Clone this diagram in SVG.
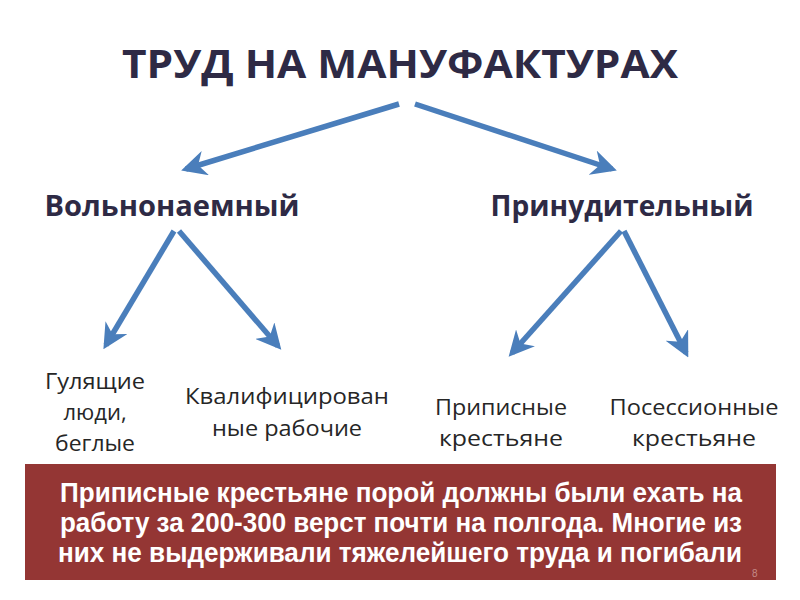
<svg xmlns="http://www.w3.org/2000/svg" width="800" height="600" viewBox="0 0 800 600">
<defs>
<marker id="ah" viewBox="0 0 10 10" refX="8" refY="5" markerWidth="4.6" markerHeight="4.6" orient="auto" markerUnits="strokeWidth">
<path d="M0,0 L10,5 L0,10 L3,5 z" fill="#4a7ebb"/>
</marker>
<style>
.conn{stroke:#4a7ebb;stroke-width:5.5;fill:none;marker-end:url(#ah)}
.title{font-family:"Open Sans","DejaVu Sans",sans-serif;font-weight:bold;font-size:40px;fill:#2e2a45;text-anchor:middle}
.cat{font-family:"Open Sans","DejaVu Sans",sans-serif;font-weight:bold;font-size:29px;fill:#2e2a45;text-anchor:middle}
.leaf{font-family:"Open Sans","DejaVu Sans",sans-serif;font-size:22px;fill:#262626;text-anchor:middle}
.note{font-family:"Liberation Sans",Arial,sans-serif;font-weight:bold;font-size:27px;fill:#ffffff;text-anchor:middle}
</style>
</defs>
<rect width="800" height="600" fill="#ffffff"/>
<g id="title"><text class="title" x="400" y="78" textLength="556" lengthAdjust="spacingAndGlyphs">ТРУД НА МАНУФАКТУРАХ</text></g>
<g id="connectors">
<line class="conn" x1="399" y1="104" x2="186" y2="169"/>
<line class="conn" x1="415" y1="104" x2="612" y2="169"/>
<line class="conn" x1="174" y1="231" x2="106" y2="345"/>
<line class="conn" x1="179" y1="231" x2="278" y2="346"/>
<line class="conn" x1="621" y1="231" x2="512" y2="353"/>
<line class="conn" x1="624" y1="231" x2="686" y2="353"/>
</g>
<g id="node-free"><text class="cat" x="172" y="216" textLength="255" lengthAdjust="spacingAndGlyphs">Вольнонаемный</text></g>
<g id="node-forced"><text class="cat" x="622" y="216" textLength="263" lengthAdjust="spacingAndGlyphs">Принудительный</text></g>
<g id="node-walking"><text class="leaf" x="95" y="389" textLength="100" lengthAdjust="spacingAndGlyphs">Гулящие</text><text class="leaf" x="95" y="420">люди,</text><text class="leaf" x="95" y="451" textLength="80" lengthAdjust="spacingAndGlyphs">беглые</text></g>
<g id="node-qualified"><text class="leaf" x="287" y="404" textLength="204" lengthAdjust="spacingAndGlyphs">Квалифицирован</text><text class="leaf" x="287" y="436" textLength="150" lengthAdjust="spacingAndGlyphs">ные рабочие</text></g>
<g id="node-assigned"><text class="leaf" x="501" y="415" textLength="132" lengthAdjust="spacingAndGlyphs">Приписные</text><text class="leaf" x="501" y="446" textLength="124" lengthAdjust="spacingAndGlyphs">крестьяне</text></g>
<g id="node-possessional"><text class="leaf" x="694" y="415" textLength="169" lengthAdjust="spacingAndGlyphs">Посессионные</text><text class="leaf" x="694" y="446" textLength="124" lengthAdjust="spacingAndGlyphs">крестьяне</text></g>
<g id="note">
<rect x="25" y="464" width="751" height="116" fill="#943634"/>
<text class="note" x="401" y="502" textLength="682" lengthAdjust="spacingAndGlyphs">Приписные крестьяне порой должны были ехать на</text>
<text class="note" x="401" y="532" textLength="682" lengthAdjust="spacingAndGlyphs">работу за 200-300 верст почти на полгода. Многие из</text>
<text class="note" x="400" y="562" textLength="684" lengthAdjust="spacingAndGlyphs">них не выдерживали тяжелейшего труда и погибали</text>
<text x="752" y="577" font-family="Liberation Sans,Arial,sans-serif" font-size="10" fill="#c48a88">8</text>
</g>
</svg>
